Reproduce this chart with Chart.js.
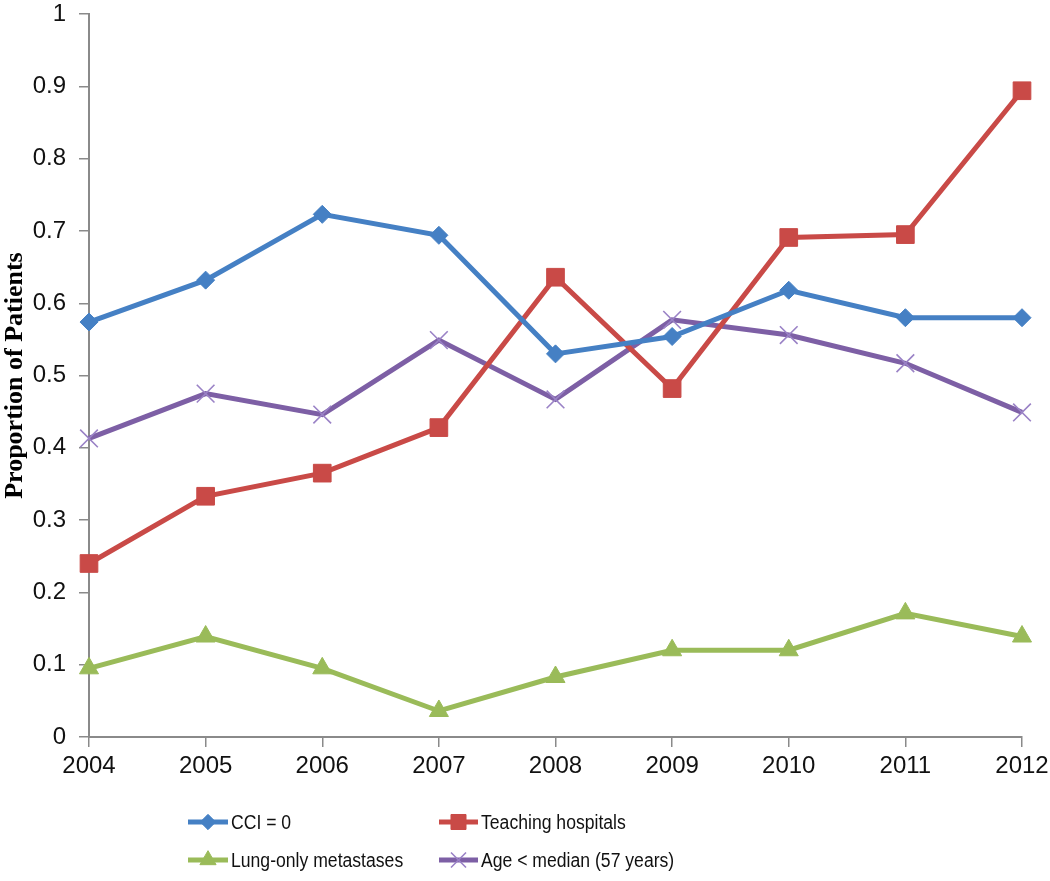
<!DOCTYPE html>
<html>
<head>
<meta charset="utf-8">
<script src="https://cdn.jsdelivr.net/npm/chart.js@4/dist/chart.umd.min.js"></script>
<style>
  html, body { margin: 0; padding: 0; background: #fff; }
  #wrap { position: relative; width: 1050px; height: 881px; }
</style>
</head>
<body>
<div id="wrap"><canvas id="chart" width="1050" height="881"></canvas></div>
<script>
// data
const years = ['2004', '2005', '2006', '2007', '2008', '2009', '2010', '2011', '2012'];
const cciZero   = [0.574, 0.632, 0.723, 0.694, 0.530, 0.554, 0.618, 0.580, 0.580];
const teaching  = [0.240, 0.333, 0.365, 0.428, 0.636, 0.482, 0.691, 0.695, 0.894];
const lungOnly  = [0.095, 0.139, 0.095, 0.036, 0.083, 0.120, 0.120, 0.171, 0.139];
const ageMedian = [0.413, 0.475, 0.446, 0.549, 0.467, 0.577, 0.556, 0.517, 0.449];

const C = {
  blue:   '#4580C4',
  red:    '#C94A47',
  green:  '#9ABB59',
  purple: '#7D5FA5',
  axis:   '#8A8A8A',
};

/** one line series in the Excel look */
function lineDS(label, data, color, style, radius, extra = {}) {
  return {
    label, data,
    borderColor: color,
    backgroundColor: color,
    borderWidth: 5,
    pointStyle: style,
    pointRadius: radius,
    pointBackgroundColor: color,
    pointBorderColor: color,
    pointBorderWidth: 1,
    tension: 0,
    fill: false,
    ...extra,
  };
}

const datasets = [
  lineDS('CCI = 0', cciZero, C.blue, 'rectRot', 9),
  lineDS('Teaching hospitals', teaching, C.red, 'rect', 12.5),
  lineDS('Lung-only metastases', lungOnly, C.green, 'triangle', 11),
  lineDS('Age < median (57 years)', ageMedian, C.purple, 'crossRot', 12.5,
         { pointBorderColor: '#9A82C6', pointBorderWidth: 1.6 }),
];

// legend laid out in two rows / two columns under the axis
const legendSlots = [
  { x0: 188, x1: 228, y: 822 },
  { x0: 439, x1: 478, y: 822 },
  { x0: 188, x1: 228, y: 860 },
  { x0: 439, x1: 478, y: 860 },
];

const legendPlugin = {
  id: 'excelLegend',
  afterDraw(chart) {
    const ctx = chart.ctx;
    ctx.save();
    chart.data.datasets.forEach((ds, i) => {
      const s = legendSlots[i];
      ctx.strokeStyle = ds.borderColor;
      ctx.lineWidth = ds.borderWidth;
      ctx.beginPath();
      ctx.moveTo(s.x0, s.y);
      ctx.lineTo(s.x1, s.y);
      ctx.stroke();
      ctx.fillStyle = ds.pointBackgroundColor;
      ctx.strokeStyle = ds.pointBorderColor;
      ctx.lineWidth = ds.pointBorderWidth;
      Chart.helpers.drawPoint(ctx, {
        pointStyle: ds.pointStyle,
        radius: ds.pointRadius * 0.85,
        borderWidth: ds.pointBorderWidth,
        rotation: 0,
      }, (s.x0 + s.x1) / 2, s.y);
      // the original font is a narrow one: squeeze the text a bit
      ctx.save();
      ctx.translate(s.x1 + 3, s.y + 1);
      ctx.scale(0.88, 1);
      ctx.fillStyle = '#111';
      ctx.font = '20px "Liberation Sans", Arial, sans-serif';
      ctx.textAlign = 'left';
      ctx.textBaseline = 'middle';
      ctx.fillText(ds.label, 0, 0);
      ctx.restore();
    });
    ctx.restore();
  },
};

const tickFont = { family: '"Liberation Sans", Arial, sans-serif', size: 24 };

new Chart(document.getElementById('chart'), {
  type: 'line',
  data: { labels: years, datasets },
  options: {
    responsive: false,
    animation: false,
    layout: { padding: { top: 11, right: 28, left: 0, bottom: 0 } },
    plugins: { legend: { display: false }, tooltip: { enabled: false } },
    scales: {
      x: {
        offset: false,
        grid: { offset: false, drawOnChartArea: false, tickLength: 10, color: C.axis, lineWidth: 1.5 },
        border: { color: C.axis, width: 2 },
        ticks: { color: '#111', font: tickFont, padding: 5, maxRotation: 0 },
        afterFit: s => { s.height = 144; s.paddingLeft = 0; s.paddingRight = 0; },
      },
      y: {
        min: 0, max: 1,
        grid: { drawOnChartArea: false, tickLength: 10, color: C.axis, lineWidth: 1.5 },
        border: { color: C.axis, width: 2 },
        ticks: { stepSize: 0.1, color: '#111', font: tickFont, padding: 13,
                 callback: v => String(+v.toFixed(1)) },
        title: { display: true, text: 'Proportion of Patients', color: '#000',
                 font: { family: '"Liberation Serif", "Times New Roman", serif', size: 26, weight: 'bold' },
                 padding: { top: 0, bottom: 0 } },
        afterFit: s => { s.width = 89; s.paddingTop = 0; s.paddingBottom = 0; },
      },
    },
  },
  plugins: [legendPlugin],
});
</script>
</body>
</html>
